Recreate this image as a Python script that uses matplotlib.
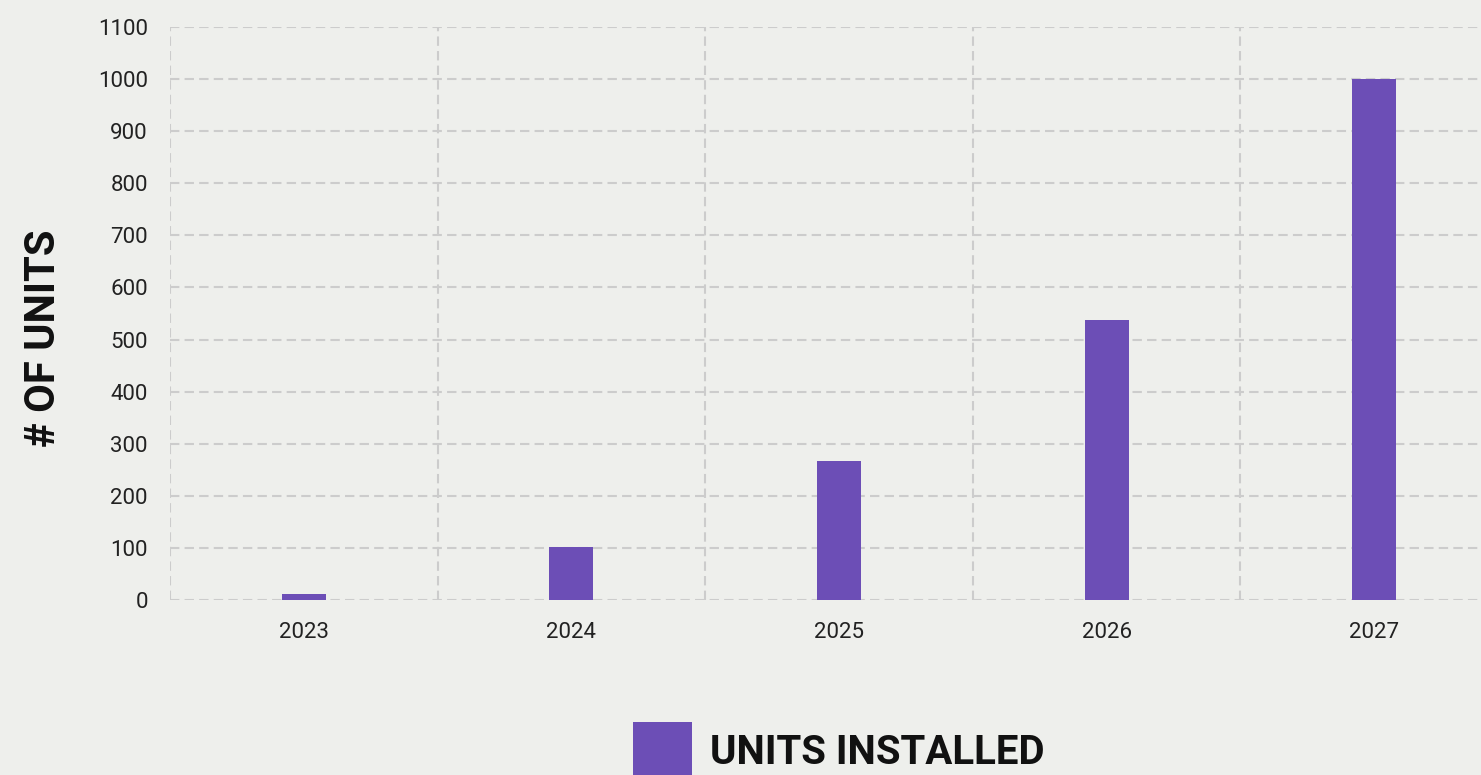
import numpy as np
import matplotlib.pyplot as plt
from matplotlib.ticker import MultipleLocator, FixedLocator

years = ['2023', '2024', '2025', '2026', '2027']
units_installed = [12, 101, 267, 538, 1000]

bg = '#eeefec'
bar_color = '#6c4eb6'
grid_color = '#cccccc'

plt.rcParams['font.family'] = ['Roboto', 'DejaVu Sans']

fig = plt.figure(figsize=(14.81, 7.75), dpi=100, facecolor=bg)
# axes runs past the right edge, like the original
ax = fig.add_axes([170 / 1481, 1 - 600 / 775, 1338 / 1481, 573 / 775])
ax.set_facecolor(bg)

x = np.arange(len(years))
ax.bar(x, units_installed, width=0.165, color=bar_color, label='UNITS INSTALLED', zorder=3)

ax.set_xlim(-0.5, len(years) - 0.5)
ax.set_ylim(0, 1100)
ax.set_xticks(x)
ax.set_xticklabels(years)
ax.xaxis.set_minor_locator(FixedLocator(np.arange(-0.5, len(years), 1.0)))
ax.yaxis.set_major_locator(MultipleLocator(100))

ax.set_axisbelow(True)
ax.grid(which='minor', axis='x', color=grid_color, linestyle=(0, (4.5, 2.5)), linewidth=1.5)
ax.grid(which='major', axis='y', color=grid_color, linestyle=(0, (4.5, 2.5)), linewidth=1.5)
for s in ax.spines.values():
    s.set_visible(False)

ax.tick_params(axis='both', which='both', length=0, labelsize=16, labelcolor='#222222')
ax.tick_params(axis='y', pad=16)
ax.tick_params(axis='x', pad=16)

fig.text(44 / 1481, 1 - 338 / 775, '# OF UNITS', rotation=90, ha='center', va='center',
         fontsize=30, fontweight='bold', color='#111111')

leg = ax.legend(loc='upper center', bbox_to_anchor=(0.5, -0.15), frameon=False,
                fontsize=29, handlelength=1.45, handleheight=1.85, handletextpad=0.45)
for t in leg.get_texts():
    t.set_fontweight('bold')
    t.set_color('#111111')

fig.savefig('out.png', dpi=100, facecolor=bg)
